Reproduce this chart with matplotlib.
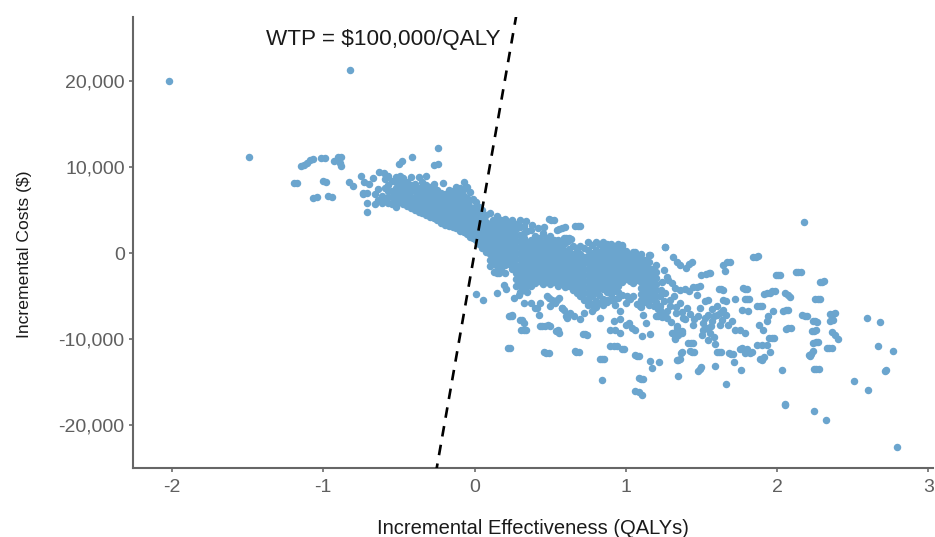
import matplotlib
matplotlib.use('Agg')
import matplotlib.pyplot as plt

plt.rcParams['font.family'] = ['Liberation Sans', 'DejaVu Sans']

# values: (QALYs, cost)
outliers = [(-2.02, 20000), (-0.82, 21300), (-1.49, 11100), (2.177, 3595), (2.79, -22540),
            (2.05, -17640), (2.243, -18370), (2.32, -19370), (2.507, -14820), (2.603, -15900),
            (2.595, -7600), (2.678, -8060), (2.667, -10760), (2.766, -11420), (2.715, -13740)]

left_group = [(-1.19, 8100), (-1.17, 8150), (-1.148, 10080), (-1.13, 10200), (-1.11, 10500), (-1.09, 10800),
              (-1.07, 10950), (-1.016, 11010), (-0.99, 11050), (-1.00, 8350), (-0.98, 8300),
              (-1.07, 6350), (-1.04, 6450), (-0.97, 6650), (-0.94, 6500), (-0.93, 10700), (-0.90, 11100),
              (-0.88, 11200), (-0.89, 10500), (-0.885, 10100), (-0.83, 8200), (-0.80, 7800),
              (-0.75, 8900), (-0.73, 8300), (-0.70, 8000), (-0.67, 8700), (-0.63, 9400), (-0.60, 9300),
              (-0.575, 9000), (-0.50, 10300), (-0.48, 10700), (-0.41, 11100), (-0.24, 12200),
              (-0.27, 10200), (-0.24, 10300), (-0.21, 8100)]

upper_columns = [(-0.74, [6900, 7000]), (-0.71, [4800, 5800, 7000]), (-0.66, [5700, 6800]),
                 (-0.61, [5800, 6600]), (-0.57, [5800, 6500, 7200, 7900]),
                 (-0.52, [5400, 6100, 6800, 7500, 8200, 8800]), (-0.47, [5700, 6400, 7100, 7800, 8700]),
                 (-0.42, [5200, 5900, 6500, 7200, 7900, 8800]), (-0.37, [4800, 5500, 6200, 6900, 7600, 8800]),
                 (-0.32, [4400, 5100, 5800, 6500, 7200, 7900, 9000]),
                 (-0.27, [4100, 4800, 5500, 6200, 6900, 7500, 8000]),
                 (-0.22, [3500, 4200, 4900, 5600, 6300, 7000]),
                 (-0.17, [3100, 3800, 4500, 5200, 5900, 6600, 7300]),
                 (-0.12, [2900, 3600, 4300, 5000, 5700, 6400, 7100, 7700]),
                 (-0.07, [2400, 3100, 3800, 4500, 5200, 5900, 6600, 7400, 8200]),
                 (-0.03, [1900, 2600, 3300, 4000, 4700, 5400, 6100, 7100])]

upper_fill = [(-0.64, [6200, 7400]), (-0.59, [6200, 7500, 8600]), (-0.545, [5700, 6500, 7200, 8400]),
              (-0.495, [5900, 6700, 7400, 8100, 9000]), (-0.445, [5500, 6200, 6900, 7600, 8300]),
              (-0.395, [5000, 5800, 6500, 7300, 8000]), (-0.345, [4600, 5400, 6100, 6800, 7500, 8300]),
              (-0.295, [4200, 5000, 5700, 6400, 7100, 7700]), (-0.245, [3800, 4500, 5200, 5900, 6600, 7300]),
              (-0.195, [3300, 4100, 4800, 5500, 6200, 6900]), (-0.145, [3000, 3700, 4400, 5100, 5800, 6500, 7200]),
              (-0.095, [2600, 3300, 4000, 4700, 5400, 6100, 6800, 7500]),
              (-0.05, [2200, 2900, 3600, 4300, 5000, 5700, 6400, 7700]),
              (-0.01, [1700, 2400, 3100, 3800, 4500, 5200, 6300])]

core_columns = [(0.01, [1500, 2200, 2900, 3600, 4300, 5000, 5900]),
                (0.05, [600, 1300, 2000, 2700, 3400, 4100, 5000]),
                (0.10, [-1500, -800, -100, 600, 1300, 2000, 2700, 3400, 4600]),
                (0.15, [-2300, -1500, -800, -100, 600, 1300, 2000, 2700, 3500, 4300]),
                (0.20, [-2300, -1400, -700, 0, 700, 1400, 2100, 2800, 3500, 4000]),
                (0.25, [-1800, -1000, -300, 400, 1100, 1800, 2500, 3200, 3800]),
                (0.30, [-4500, -3700, -2900, -2100, -1400, -700, 0, 700, 1400, 2100, 3000]),
                (0.35, [-4500, -3800, -3000, -2200, -1500, -800, -100, 600, 1300, 2500]),
                (0.40, [-3500, -2800, -2100, -1400, -700, 0, 700, 1300, 2000]),
                (0.45, [-3600, -2900, -2200, -1500, -800, -100, 600, 1200, 2300]),
                (0.50, [-3600, -2900, -2200, -1500, -800, -100, 600, 1300, 2000]),
                (0.55, [-3800, -3100, -2400, -1700, -1000, -300, 400, 1100, 1500]),
                (0.60, [-4000, -3300, -2600, -1900, -1200, -500, 200, 1200]),
                (0.65, [-4300, -3600, -2900, -2200, -1500, -800, -100, 800]),
                (0.70, [-5000, -4300, -3600, -2900, -2200, -1500, -800, -100, 800]),
                (0.75, [-6000, -5300, -4600, -3900, -3200, -2500, -1800, -1100, -400, 300, 1300]),
                (0.80, [-6300, -5600, -4500, -3800, -3100, -2400, -1700, -1000, -300, 400, 1300]),
                (0.85, [-6000, -5300, -4200, -3500, -2800, -2100, -1400, -700, 0, 700, 1300]),
                (0.90, [-5500, -4800, -4000, -3300, -2600, -1900, -1200, -500, 200, 1000]),
                (0.95, [-5200, -4500, -3800, -3100, -2400, -1700, -1000, -300, 400, 1000]),
                (1.00, [-5800, -3000, -2300, -1600, -900, -200, 200]),
                (1.05, [-5000, -3500, -2800, -2100, -1400, -700, 100]),
                (1.10, [-6300, -5500, -4800, -4100, -3400, -2700, -2000, -1300, -600, -100]),
                (1.15, [-6000, -5300, -4600, -3900, -3200, -2500, -1800, -1100, -200]),
                (1.20, [-5700, -5000, -4300, -3600, -2900, -2200, -1400])]

core_fill = [(0.03, [1000, 1700, 2400, 3100, 3800, 4600, 5400]),
             (0.075, [100, 800, 1500, 2200, 2900, 3600, 4400]),
             (0.125, [-1200, -500, 200, 900, 1600, 2300, 3000, 3800]),
             (0.175, [-1900, -1100, -400, 300, 1000, 1700, 2400, 3100, 3800]),
             (0.225, [-1300, -600, 100, 800, 1500, 2200, 2900, 3600]),
             (0.275, [-3800, -3000, -2300, -1500, -700, 0, 700, 1400, 2100, 2800, 3400]),
             (0.325, [-3800, -3200, -2500, -1800, -1100, -400, 300, 1000, 1700, 2300]),
             (0.375, [-3400, -2700, -2000, -1300, -600, 100, 800, 1500]),
             (0.425, [-3200, -2500, -1800, -1100, -400, 300, 1000, 1800]),
             (0.475, [-3300, -2600, -1900, -1200, -500, 200, 900, 1700]),
             (0.525, [-3400, -2700, -2000, -1300, -600, 100, 800, 1500]),
             (0.575, [-3500, -2800, -2100, -1400, -700, 0, 700, 1000]),
             (0.625, [-3800, -3000, -2300, -1600, -900, -200, 500]),
             (0.675, [-4600, -3900, -3200, -2500, -1800, -1100, -400, 500]),
             (0.725, [-5500, -4700, -4000, -3300, -2600, -1900, -1200, -500, 600]),
             (0.775, [-5900, -5000, -4200, -3500, -2800, -2100, -1400, -700, 0, 900]),
             (0.825, [-5800, -4900, -4100, -3400, -2700, -2000, -1300, -600, 100, 1000]),
             (0.875, [-5700, -4500, -3700, -3000, -2300, -1600, -900, -200, 500, 1100]),
             (0.925, [-5300, -4400, -3600, -2900, -2200, -1500, -800, -100, 700]),
             (0.975, [-4900, -3400, -2700, -2000, -1300, -600, 100, 800]),
             (1.025, [-5400, -3200, -2500, -1800, -1100, -400]),
             (1.075, [-5900, -3100, -2400, -1700, -1000, -300]),
             (1.125, [-5700, -5000, -4300, -3600, -2900, -2200, -1500, -800]),
             (1.175, [-5400, -4700, -4000, -3300, -2600, -1900])]

top_lumps = [(0.30, 3800), (0.34, 3700), (0.38, 3300), (0.42, 2900), (0.46, 3000), (0.62, 1400), (0.64, 1600),
             (0.70, 3100), (0.665, 3150), (0.49, 3900), (0.525, 3800), (0.56, 2800), (0.595, 3000),
             (0.625, 1700), (0.59, 1700), (0.33, 3100), (0.37, 2700)]

lower_points = [(0.013, -4740), (0.057, -5440), (0.15, -4670), (0.194, -3700), (0.205, -4200), (0.233, -7370),
                (0.25, -7300), (0.315, -7830), (0.326, -8910), (0.425, -7170), (0.469, -8450), (0.436, -8450),
                (0.502, -8450), (0.539, -9060), (0.732, -9410), (0.222, -11000), (0.458, -11540), (0.49, -11610),
                (0.673, -11460), (0.607, -7370), (0.594, -6600), (0.70, -7680), (0.726, -6980), (0.827, -7520),
                (0.787, -6400), (0.919, -7950), (0.963, -7680), (0.897, -8990), (0.963, -9300), (0.93, -8910),
                (1.018, -8140), (1.062, -8910), (1.106, -9680), (1.161, -9370), (1.113, -7210), (1.135, -8140),
                (0.919, -10840), (0.974, -11110), (1.073, -11920), (0.84, -12310), (0.84, -14700), (1.102, -14620),
                (1.062, -16050), (1.11, -16440), (1.085, -16200), (1.161, -12580), (1.216, -12660), (1.172, -13350),
                (1.238, -7440), (1.27, -6790), (1.381, -7560), (0.37, -5820), (0.414, -6400), (0.49, -5240),
                (0.546, -5440), (0.502, -6210), (0.579, -6400), (0.26, -5240), (0.293, -4860), (0.326, -4280),
                (0.37, -3890), (0.304, -3310), (0.128, -2160), (0.161, -2350), (0.508, 3830), (0.579, 2860),
                (0.546, 2670), (0.684, 3130), (0.607, 1700), (1.26, 660), (1.062, 160), (1.161, -230), (0.974, 930)]

lower_lumps = [(0.326, -5750), (0.403, -6400), (0.436, -5820), (0.48, -5050), (0.513, -5440), (0.535, -5820),
               (0.557, -5240), (0.579, -6400), (0.612, -7560), (0.787, -5820), (0.776, -6790), (0.875, -5440),
               (0.93, -6020), (0.963, -6790), (1.007, -5050), (1.095, -6210), (1.183, -6210), (1.227, -6600),
               (1.04, -8720), (1.0, -8330), (0.447, -8450), (0.485, -8350), (0.227, -7370), (0.249, -7250),
               (0.718, -9350), (0.745, -9500), (0.941, -10840), (0.99, -11100), (0.895, -10780),
               (0.55, -9000), (0.56, -9250), (0.665, -11430), (0.69, -11500), (0.83, -12300), (0.855, -12350),
               (1.085, -11950), (1.06, -11800), (0.30, -7800), (0.33, -8100), (0.31, -8950), (0.34, -8950),
               (1.337, -8530), (1.304, -9300), (1.37, -9100), (1.348, -9490), (1.326, -10000), (1.21, -7300),
               (0.475, -11600), (0.235, -11050), (1.115, -14650), (1.09, -14550), (0.63, -7000), (0.66, -7300)]

right_points = [(1.26, 660), (1.315, -420), (1.36, -1380), (1.40, -1770), (1.44, -1075), (1.67, -1000), (1.645, -1380),
                (1.656, -2040), (1.858, -420), (1.50, -2540), (1.53, -2400), (1.557, -2270), (2.007, -2580), (2.14, -2230),
                (2.298, -3310), (1.627, -4200), (1.788, -4130), (1.93, -4660), (1.986, -4360), (2.05, -4660),
                (2.085, -5130), (1.803, -5360), (1.72, -5360), (1.645, -5510), (1.546, -5510), (2.267, -5360),
                (1.887, -6210), (1.766, -6600), (1.81, -6790), (2.056, -6670), (1.975, -6790), (1.94, -7370),
                (1.93, -7950), (2.183, -7290), (2.25, -7950), (2.37, -7060), (2.366, -7830), (1.88, -8330),
                (1.909, -8910), (2.074, -8760), (2.245, -9030), (2.364, -9220), (2.399, -9990), (1.963, -9880),
                (1.788, -9300), (1.755, -8910), (2.256, -10380), (2.344, -11030), (2.227, -11690), (2.22, -12000),
                (1.865, -10650), (1.93, -10730), (1.953, -11540), (1.755, -11110), (1.788, -11610), (1.82, -11610),
                (1.898, -12380), (1.715, -12660), (1.695, -11690), (1.618, -11500), (1.59, -13160), (1.759, -13580),
                (1.491, -13470), (2.034, -13540), (2.26, -13470), (1.66, -15160), (1.348, -14240), (1.348, -12380),
                (1.363, -11610), (1.44, -11460), (1.43, -10460), (1.249, -1960), (1.271, -2730), (1.238, -3310),
                (1.304, -3510), (1.326, -4090), (1.26, -4660), (1.227, -5050), (1.392, -4200), (1.447, -3970),
                (1.491, -3820), (1.469, -4860), (1.293, -5440), (1.359, -5820), (1.403, -6400), (1.491, -6400),
                (1.546, -7170), (1.60, -6210), (1.645, -6600), (1.60, -7170), (1.634, -7750), (1.568, -7950),
                (1.513, -8140), (1.678, -8330), (1.722, -8910), (1.447, -8330), (1.392, -7640), (1.337, -8720),
                (1.37, -9300), (1.315, -9300), (1.326, -9880), (1.502, -9490), (1.557, -9300), (1.546, -10070),
                (1.59, -10570), (1.249, -7170), (1.227, -6210), (1.293, -6210), (1.62, -8400), (1.535, -8700),
                (1.48, -7300), (1.425, -7100), (1.665, -5600), (1.28, -3100), (1.23, -4300), (1.25, -5600),
                (1.32, -5000), (1.33, -7000), (1.30, -8000), (1.27, -7600), (1.36, -4300), (1.42, -4400),
                (1.47, -4000), (1.52, -7500), (1.58, -7300), (1.62, -7000), (1.56, -8500), (1.51, -8900),
                (1.45, -7700), (1.37, -6900), (1.66, -7200), (1.70, -7900), (1.57, -6500), (1.52, -5600),
                (1.58, -9700), (1.33, -6300), (1.21, -6500), (1.20, -7300)]

right_lumps = [(1.875, -400), (1.84, -450), (2.02, -2600), (1.995, -2550), (2.155, -2250), (2.125, -2200),
               (2.28, -3350), (2.31, -3300), (1.64, -4250), (1.615, -4150), (1.80, -4150), (1.775, -4100),
               (1.95, -4600), (1.965, -4450), (2.07, -4900), (1.91, -4800), (1.815, -5350), (1.79, -5400),
               (2.28, -5350), (2.25, -5400), (1.90, -6200), (1.87, -6150), (2.07, -6650), (2.04, -6700),
               (2.20, -7350), (2.165, -7200), (2.265, -8000), (2.235, -7900), (2.385, -7000), (2.35, -7100),
               (2.35, -7850), (2.09, -8750), (2.06, -8800), (2.26, -9000), (2.23, -9050), (2.38, -9500),
               (1.98, -9850), (1.945, -9900), (2.27, -10350), (2.24, -10400), (2.36, -11000), (2.33, -11050),
               (2.24, -11400), (2.21, -11900), (2.275, -13450), (2.245, -13500), (2.72, -13600), (1.50, -13200),
               (1.48, -13700), (1.91, -12100), (1.885, -12350), (1.71, -11700), (1.68, -11600), (1.63, -11550),
               (1.60, -11450), (1.45, -11500), (1.425, -11400), (1.445, -10500), (1.41, -10450), (1.37, -11500),
               (1.335, -12450), (1.36, -12300), (1.90, -10650), (1.835, -11500), (1.80, -11200), (1.77, -11000),
               (1.55, -2300), (1.69, -1050), (1.42, -1300), (1.34, -1100), (2.055, -17500)]

x_ticks = [-2, -1, 0, 1, 2, 3]
y_ticks = [-20000, -10000, 0, 10000, 20000]
y_tick_labels = ['-20,000', '-10,000', '0', '10,000', '20,000']
wtp = 100000

xs = []
ys = []
for pts in (outliers, left_group, top_lumps, lower_points, lower_lumps, right_points, right_lumps):
    for px, py in pts:
        xs.append(px)
        ys.append(py)
for cols in (upper_columns, upper_fill, core_columns, core_fill):
    for cx, col_y in cols:
        for cy in col_y:
            xs.append(cx)
            ys.append(cy)

fig = plt.figure(figsize=(9.35, 5.37), dpi=100)
ax = fig.add_axes([133 / 935, 1 - 468 / 537, 800 / 935, 451 / 537])
ax.scatter(xs, ys, s=29, color='#6ba5ce', linewidths=0, zorder=2)
ax.plot([-0.3, 0.3], [-0.3 * wtp, 0.3 * wtp], color='black', lw=1.9, ls=(0, (4, 3.2)), zorder=3)
ax.text(-0.604, 24800, 'WTP = $100,000/QALY', fontsize=16.2, color='#1a1a1a', ha='center', va='center')

ax.set_xlim(-2.257, 3.03)
ax.set_ylim(-24970, 27410)
ax.set_xticks(x_ticks)
ax.set_xticklabels([str(t) for t in x_ticks])
ax.set_yticks(y_ticks)
ax.set_yticklabels(y_tick_labels)
ax.tick_params(labelsize=14, colors='#5f5f5f', length=3, width=1.1, pad=3)
ax.tick_params(axis='x', pad=5)
ax.set_xlabel('Incremental Effectiveness (QALYs)', fontsize=14.5, color='#1a1a1a', labelpad=16.5)
ax.set_ylabel('Incremental Costs ($)', fontsize=12.6, color='#1a1a1a', labelpad=19, y=0.473)
for side in ('top', 'right'):
    ax.spines[side].set_visible(False)
for side in ('left', 'bottom'):
    ax.spines[side].set_color('#666666')
    ax.spines[side].set_linewidth(1.5)

fig.savefig('out.png', dpi=100)
